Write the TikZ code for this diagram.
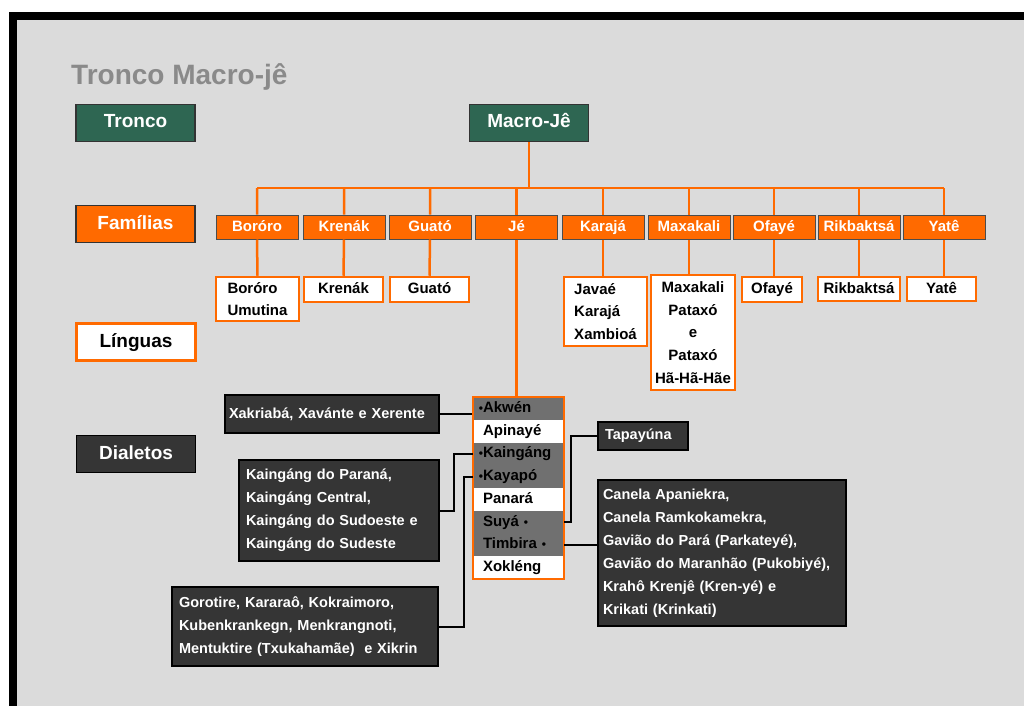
\documentclass[tikz,border=0pt]{standalone}
\usepackage{fontspec}
\setmainfont{Liberation Sans}
\usepackage{tikz}
\usetikzlibrary{positioning, fit}

\definecolor{trunkgreen}{HTML}{2E6652}
\definecolor{famorange}{HTML}{FF6A00}
\definecolor{bggray}{HTML}{DBDBDB}
\definecolor{rowgray}{HTML}{707070}
\definecolor{dialdark}{HTML}{353535}
\definecolor{titlegray}{HTML}{8A8A8A}

\newcommand{\dotmark}{{\fontsize{12}{12}\selectfont\textbullet}}

\tikzset{
  levelbox/.style={draw=black!80, line width=1.2pt, minimum width=119pt, minimum height=37pt,
    inner sep=0pt, text height=13.5pt, text depth=3.5pt, font=\fontsize{19}{22}\selectfont\bfseries},
  trunkbox/.style={levelbox, fill=trunkgreen, text=white},
  fambox/.style={draw=black!70, line width=1pt, fill=famorange, text=white, inner sep=0pt,
    minimum width=82pt, minimum height=24pt, text height=11pt, text depth=3pt,
    font=\fontsize{15}{18}\selectfont\bfseries},
  langbox/.style={draw=famorange, line width=2.5pt, fill=white, text=black, inner sep=0pt,
    font=\fontsize{15}{22.6}\selectfont\bfseries},
  jerow/.style={text width=71pt, inner xsep=10pt, inner ysep=0pt, outer sep=0pt, minimum height=22.75pt,
    text height=11pt, text depth=3pt, align=left, text=black, font=\fontsize{15}{18}\selectfont\bfseries},
  dialbox/.style={draw=black, line width=1.5pt, fill=dialdark, text=white, inner ysep=0pt,
    align=left, font=\fontsize{14.5}{23}\selectfont\bfseries},
  conn/.style={draw=famorange, line width=2.5pt},
  dialconn/.style={draw=black, line width=2pt}
}

\begin{document}
\begin{tikzpicture}[x=1pt, y=-1pt]

% ── Background and frame ───────────────────────────────────────
\useasboundingbox (0,0) rectangle (1024,706);
\fill[white] (0,0) rectangle (1024,706);
\fill[black] (9,12) rectangle (1024,706);
\fill[bggray] (17,20) rectangle (1024,706);

\node[anchor=west, inner sep=0pt, text=titlegray, font=\fontsize{28}{31}\selectfont\bfseries]
    (title) at (71,77) {Tronco Macro-jê};

% ── Level labels ───────────────────────────────────────────────
\node[trunkbox] (tronco) at (135.5,123) {Tronco};
\node[levelbox, fill=famorange, text=white] (familias) at (135.5,224) {Famílias};
\node[levelbox, draw=famorange, line width=2.5pt, fill=white, text=black] (linguas) at (136,342) {Línguas};
\node[levelbox, fill=dialdark, draw=black, text=white] (dialetos) at (136,454) {Dialetos};

% ── Trunk ──────────────────────────────────────────────────────
\node[trunkbox] (macro) at (529,123) {Macro-Jê};
\coordinate (fork) at (529,188);

% ── Families ───────────────────────────────────────────────────
\node[fambox] (fbororo) at (257,227) {Boróro};
\node[fambox] (fkrenak) at (344,227) {Krenák};
\node[fambox] (fguato) at (430,227) {Guató};
\node[fambox] (fje) at (516.5,227) {Jé};
\node[fambox] (fkaraja) at (603,227) {Karajá};
\node[fambox] (fmaxakali) at (689,227) {Maxakali};
\node[fambox] (fofaye) at (774,227) {Ofayé};
\node[fambox] (frikbaktsa) at (859,227) {Rikbaktsá};
\node[fambox] (fyate) at (944,227) {Yatê};

% ── Languages ──────────────────────────────────────────────────
\node[langbox, minimum width=83pt, minimum height=44pt, align=left] (lbororo) at (257.5,299) {Boróro\\Umutina};
\node[langbox, minimum width=79pt, minimum height=25pt, text height=11pt, text depth=3pt] (lkrenak) at (343.5,289.5) {Krenák};
\node[langbox, minimum width=79pt, minimum height=25pt, text height=11pt, text depth=3pt] (lguato) at (429.5,289.5) {Guató};
\node[langbox, minimum width=83pt, minimum height=69pt, align=left] (lkaraja) at (605.5,311.5) {Javaé\\Karajá\\Xambioá};
\node[langbox, minimum width=84pt, minimum height=115pt, align=center] (lmaxakali) at (693,332.5)
    {Maxakali\\Pataxó\\e\\Pataxó\\Hã-Hã-Hãe};
\node[langbox, minimum width=60pt, minimum height=25pt, text height=11pt, text depth=3pt] (lofaye) at (772,289.5) {Ofayé};
\node[langbox, minimum width=82pt, minimum height=24pt, text height=11pt, text depth=3pt] (lrikbaktsa) at (859,289) {Rikbaktsá};
\node[langbox, minimum width=69pt, minimum height=24pt, text height=11pt, text depth=3pt] (lyate) at (941.5,289) {Yatê};

% ── Jé languages ───────────────────────────────────────────────
\node[jerow, fill=rowgray, anchor=north west] (r1) at (473,397) {\llap{\dotmark}Akwén};
\node[jerow, fill=white, below=0pt of r1] (r2) {Apinayé};
\node[jerow, fill=rowgray, below=0pt of r2] (r3) {\llap{\dotmark}Kaingáng};
\node[jerow, fill=rowgray, below=0pt of r3] (r4) {\llap{\dotmark}Kayapó};
\node[jerow, fill=white, below=0pt of r4] (r5) {Panará};
\node[jerow, fill=rowgray, below=0pt of r5] (r6) {Suyá \dotmark};
\node[jerow, fill=rowgray, below=0pt of r6] (r7) {Timbira \dotmark};
\node[jerow, fill=white, below=0pt of r7] (r8) {Xokléng};
\node[fit=(r1)(r8), draw=famorange, line width=2.5pt, inner sep=0pt] (jelist) {};

% ── Dialects ───────────────────────────────────────────────────
\node[dialbox, text width=206pt, inner xsep=4pt, minimum height=38pt] (dxakriaba) at (332,414)
    {Xakriabá, Xavánte e Xerente};
\node[dialbox, text width=186pt, inner xsep=7pt, minimum height=101pt] (dkaingang) at (339,510.5)
    {Kaingáng do Paraná,\\Kaingáng Central,\\Kaingáng do Sudoeste e\\Kaingáng do Sudeste};
\node[dialbox, text width=252pt, inner xsep=7pt, minimum height=79pt] (dkayapo) at (305,626.5)
    {Gorotire, Kararaô, Kokraimoro,\\Kubenkrankegn, Menkrangnoti,\\Mentuktire (Txukahamãe)\ \ e Xikrin};
\node[dialbox, text width=76pt, inner xsep=7pt, minimum height=28pt] (dsuya) at (643,436) {Tapayúna};
\node[dialbox, text width=238pt, inner xsep=5pt, minimum height=146pt] (dtimbira) at (722,553)
    {Canela Apaniekra,\\Canela Ramkokamekra,\\Gavião do Pará (Parkateyé),\\Gavião do Maranhão (Pukobiyé),\\Krahô Krenjê (Kren-yé) e\\Krikati (Krinkati)};

% ── Connectors ─────────────────────────────────────────────────
\draw[conn] (macro.south) -- (fork);
\draw[conn] (fork -| fbororo) -- (fork -| fyate);
\draw[conn] (fork -| fbororo) -- (fbororo.north) (fbororo.south) -- (lbororo.north);
\draw[conn] (fork -| fkrenak) -- (fkrenak.north) (fkrenak.south) -- (lkrenak.north);
\draw[conn] (fork -| fguato) -- (fguato.north) (fguato.south) -- (lguato.north);
\draw[conn] (fork -| fje) -- (fje.north) (fje.south) -- (fje.south |- jelist.north);
\draw[conn] (fork -| fkaraja) -- (fkaraja.north) (fkaraja.south) -- (fkaraja.south |- lkaraja.north);
\draw[conn] (fork -| fmaxakali) -- (fmaxakali.north) (fmaxakali.south) -- (fmaxakali.south |- lmaxakali.north);
\draw[conn] (fork -| fofaye) -- (fofaye.north) (fofaye.south) -- (fofaye.south |- lofaye.north);
\draw[conn] (fork -| frikbaktsa) -- (frikbaktsa.north) (frikbaktsa.south) -- (lrikbaktsa.north);
\draw[conn] (fork -| fyate) -- (fyate.north) (fyate.south) -- (fyate.south |- lyate.north);

\draw[dialconn] (dxakriaba.east) -- (dxakriaba.east -| jelist.west);
\draw[dialconn] (dkaingang.east) -- ++(14,0) |- (r3.west);
\draw[dialconn] (dkayapo.east) -- ++(25,0) |- (r4.west);
\draw[dialconn] (r6.east) -- ++(7,0) |- (dsuya.west);
\draw[dialconn] (r7.east) -- (r7.east -| dtimbira.west);

\end{tikzpicture}
\end{document}
